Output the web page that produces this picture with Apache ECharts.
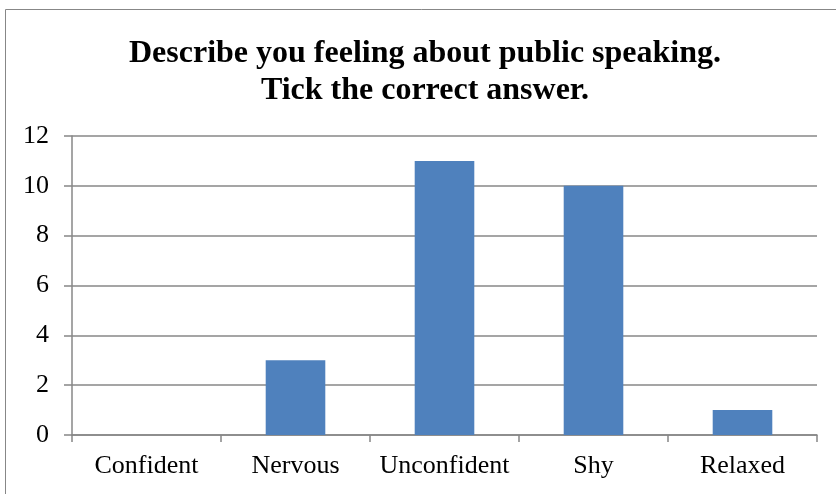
<!DOCTYPE html>
<html>
<head>
<meta charset="utf-8">
<script src="https://cdn.jsdelivr.net/npm/echarts@6/dist/echarts.min.js"></script>
<style>
  html, body { margin: 0; padding: 0; background: #ffffff; }
  #chart { width: 836px; height: 494px; }
</style>
</head>
<body>
<div id="chart"></div>
<script>
// Survey answers about public speaking
const categories = ['Confident', 'Nervous', 'Unconfident', 'Shy', 'Relaxed'];
const counts = [0, 3, 11, 10, 1];
const yTicks = { min: 0, max: 12, interval: 2 };

const serif = '"Liberation Serif", "Times New Roman", serif';
const axisGray = '#878787';

const chart = echarts.init(document.getElementById('chart'), null, { renderer: 'canvas' });
chart.setOption({
  animation: false,
  backgroundColor: '#ffffff',
  graphic: [{
    type: 'rect',
    shape: { x: 5.5, y: 9.5, width: 900, height: 600 },
    style: { fill: 'none', stroke: axisGray, lineWidth: 1 },
    silent: true,
    z: 0
  }],
  title: {
    text: 'Describe you feeling about public speaking.\nTick the correct answer.',
    left: 420,
    textAlign: 'center',
    top: 30,
    textStyle: {
      fontFamily: serif,
      fontSize: 32,
      fontWeight: 'bold',
      color: '#000000',
      lineHeight: 37,
      align: 'center'
    }
  },
  grid: { left: 72, right: 19, top: 136, bottom: 59, containLabel: false },
  xAxis: {
    type: 'category',
    data: categories,
    boundaryGap: true,
    axisLine: { lineStyle: { color: axisGray, width: 1.5 } },
    axisTick: { show: true, length: 7, alignWithLabel: false, lineStyle: { color: axisGray, width: 1.5 } },
    axisLabel: { fontFamily: serif, fontSize: 26, color: '#000000', margin: 18, interval: 0 },
    splitLine: { show: false }
  },
  yAxis: {
    type: 'value',
    min: yTicks.min,
    max: yTicks.max,
    interval: yTicks.interval,
    axisLine: { show: true, lineStyle: { color: axisGray, width: 1.5 } },
    axisTick: { show: true, length: 8, lineStyle: { color: axisGray, width: 1.5 } },
    axisLabel: { fontFamily: serif, fontSize: 26, color: '#000000', margin: 23 },
    splitLine: { show: true, lineStyle: { color: axisGray, width: 1.5 } }
  },
  series: [{
    type: 'bar',
    data: counts,
    barWidth: '40%',
    itemStyle: { color: '#4F81BD' }
  }]
});
</script>
</body>
</html>
